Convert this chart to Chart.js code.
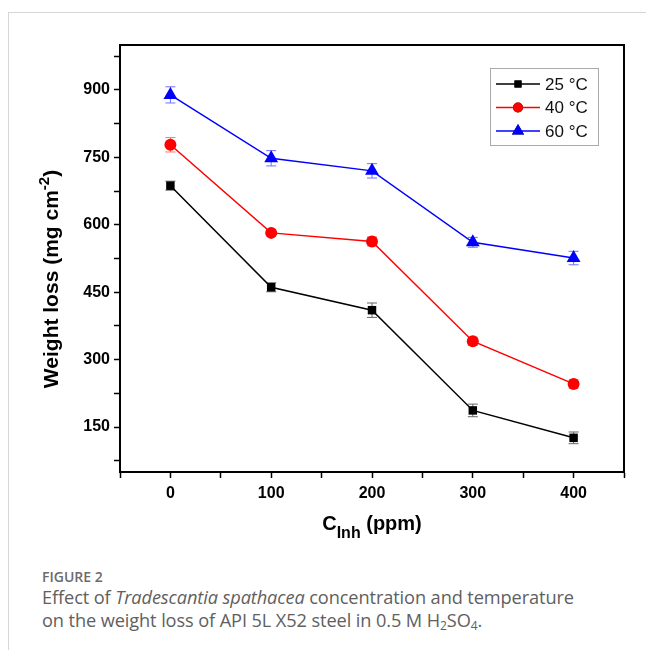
<!DOCTYPE html>
<html>
<head>
<meta charset="utf-8">
<script src="https://cdn.jsdelivr.net/npm/chart.js@4"></script>
<style>
  html, body { margin: 0; padding: 0; background: #fff; }
  body { width: 646px; height: 650px; position: relative; overflow: hidden; }
  .frame { position: absolute; left: 8px; top: 12px; right: 0; bottom: 0;
           border-left: 1px solid #d6d6d6; border-top: 1px solid #d6d6d6; }
  #chart { position: absolute; left: 0; top: 0; }
  .cap { position: absolute; left: 42px; top: 567px; font-family: "Open Sans", sans-serif; color: #666; }
  .cap .fig { font-size: 14px; font-weight: 600; line-height: 19px; color: #6b6b6b; }
  .cap .txt { font-size: 18.2px; line-height: 23px; color: #606060; letter-spacing: -0.1px; }
  .cap sub { font-size: 12px; vertical-align: -3px; line-height: 0; }
</style>
</head>
<body>
<div class="frame"></div>
<canvas id="chart" width="646" height="550"></canvas>
<div class="cap">
  <div class="fig">FIGURE 2</div>
  <div class="txt">Effect of <i>Tradescantia spathacea</i> concentration and temperature<br>on the weight loss of API 5L X52 steel in 0.5 M H<sub>2</sub>SO<sub>4</sub>.</div>
</div>
<script>
// concentration of inhibitor (ppm)
const concentrations = [0, 100, 200, 300, 400];
const seriesNames = ["25 °C", "40 °C", "60 °C"];
// weight loss (mg cm-2)
const loss25 = [687, 461, 410, 187, 126];
const loss40 = [778, 582, 563, 341, 246];
const loss60 = [889, 748, 720, 561, 526];
// error bars (±)
const err25 = [10, 10, 16, 14, 13];
const err40 = [16, 7, 10, 9, 9];
const err60 = [18, 17, 16, 11, 15];
const xTicks = [-50, 0, 50, 100, 150, 200, 250, 300, 350, 400, 450];
const yTicks = [75, 150, 225, 300, 375, 450, 525, 600, 675, 750, 825, 900, 975];

const tickFont = { family: "Liberation Sans, Arial, sans-serif", size: 16, weight: "bold" };

function pts(vals) {
  return concentrations.map((c, i) => ({ x: c, y: vals[i] }));
}

const errorBars = {
  id: "errorBars",
  beforeDatasetsDraw(chart) {
    const ctx = chart.ctx;
    const xs = chart.scales.x, ys = chart.scales.y;
    chart.data.datasets.forEach((ds) => {
      ctx.save();
      ctx.strokeStyle = ds.errColor;
      ctx.lineWidth = 1;
      ds.data.forEach((p, i) => {
        const e = ds.errors[i];
        const px = xs.getPixelForValue(p.x);
        const top = ys.getPixelForValue(p.y + e);
        const bot = ys.getPixelForValue(p.y - e);
        ctx.beginPath();
        ctx.moveTo(px, top); ctx.lineTo(px, bot);
        ctx.moveTo(px - 5, top); ctx.lineTo(px + 5, top);
        ctx.moveTo(px - 5, bot); ctx.lineTo(px + 5, bot);
        ctx.stroke();
      });
      ctx.restore();
    });
  }
};

const decorations = {
  id: "decorations",
  afterDraw(chart) {
    const ctx = chart.ctx;
    const a = chart.chartArea;
    ctx.save();
    // frame
    ctx.strokeStyle = "#000";
    ctx.lineWidth = 2;
    ctx.strokeRect(a.left, a.top, a.right - a.left, a.bottom - a.top);

    // x title with subscript
    ctx.fillStyle = "#000";
    ctx.textBaseline = "alphabetic";
    const big = "bold 20px Liberation Sans, Arial, sans-serif";
    const small = "bold 16px Liberation Sans, Arial, sans-serif";
    ctx.font = big; const wC = ctx.measureText("C").width;
    ctx.font = small; const wI = ctx.measureText("Inh").width;
    ctx.font = big; const wP = ctx.measureText(" (ppm)").width;
    let x0 = (a.left + a.right) / 2 - (wC + wI + wP) / 2;
    ctx.font = big; ctx.fillText("C", x0, 530);
    ctx.font = small; ctx.fillText("Inh", x0 + wC, 538);
    ctx.font = big; ctx.fillText(" (ppm)", x0 + wC + wI, 530);

    // y title with superscript
    const bigY = "bold 21px Liberation Sans, Arial, sans-serif";
    const smallY = "bold 15px Liberation Sans, Arial, sans-serif";
    ctx.translate(58, 279);
    ctx.rotate(-Math.PI / 2);
    ctx.font = bigY; const w1 = ctx.measureText("Weight loss (mg cm").width;
    ctx.font = smallY; const w2 = ctx.measureText("-2").width;
    ctx.font = bigY; const w3 = ctx.measureText(")").width;
    let s = -(w1 + w2 + w3) / 2;
    ctx.font = bigY; ctx.fillText("Weight loss (mg cm", s, 0);
    ctx.font = smallY; ctx.fillText("-2", s + w1, -9);
    ctx.font = bigY; ctx.fillText(")", s + w1 + w2, 0);
    ctx.restore();

    // legend
    ctx.save();
    const lx = 490, ly = 68, lw = 108, lh = 77;
    ctx.strokeStyle = "#aaa";
    ctx.lineWidth = 1;
    ctx.strokeRect(lx + 0.5, ly + 0.5, lw, lh);
    chart.data.datasets.forEach((ds, i) => {
      const cy = ly + 16 + i * 23.5;
      ctx.strokeStyle = ds.borderColor;
      ctx.lineWidth = 1.5;
      ctx.beginPath(); ctx.moveTo(lx + 6, cy); ctx.lineTo(lx + 50, cy); ctx.stroke();
      Chart.helpers.drawPoint(ctx, {
        pointStyle: ds.pointStyle, radius: ds.pointRadius - 1, borderWidth: 0, rotation: 0
      }, lx + 28, cy);
      ctx.fillStyle = ds.backgroundColor;
      ctx.fill();
      ctx.fillStyle = "#111";
      ctx.font = "17px Liberation Sans, Arial, sans-serif";
      ctx.textBaseline = "middle";
      ctx.fillText(ds.label, lx + 55, cy + 1);
    });
    ctx.restore();
  }
};

function makeDataset(label, vals, errs, color, errColor, style, r) {
  return {
    label: label,
    data: pts(vals),
    errors: errs,
    errColor: errColor,
    borderColor: color,
    backgroundColor: color,
    borderWidth: 1.5,
    pointStyle: style,
    pointRadius: r,
    pointBorderWidth: 0,
    tension: 0
  };
}

new Chart(document.getElementById("chart"), {
  type: "line",
  data: {
    datasets: [
      makeDataset(seriesNames[0], loss25, err25, "#000000", "#666666", "rect", 6),
      makeDataset(seriesNames[1], loss40, err40, "#ff0000", "#ff7070", "circle", 6),
      makeDataset(seriesNames[2], loss60, err60, "#0000ff", "#7070ff", "triangle", 8)
    ]
  },
  options: {
    responsive: false,
    animation: false,
    layout: { padding: { left: 0, top: 45, right: 22, bottom: 0 } },
    plugins: { legend: { display: false }, tooltip: { enabled: false } },
    scales: {
      x: {
        type: "linear",
        min: -50,
        max: 450,
        afterBuildTicks: (scale) => { scale.ticks = xTicks.map((v) => ({ value: v })); },
        afterFit: (scale) => { scale.height = 78; },
        border: { color: "#000", width: 2 },
        grid: { drawOnChartArea: false, drawTicks: true, tickLength: 6, color: "#000", tickWidth: 1.5 },
        ticks: {
          color: "#000",
          font: tickFont,
          padding: 6,
          maxRotation: 0,
          autoSkip: false,
          callback: (v) => (v % 100 === 0 && v >= 0 && v <= 400 ? String(v) : "")
        }
      },
      y: {
        type: "linear",
        min: 50,
        max: 1000,
        afterBuildTicks: (scale) => { scale.ticks = yTicks.map((v) => ({ value: v })); },
        afterFit: (scale) => { scale.width = 120; },
        border: { color: "#000", width: 2 },
        grid: { drawOnChartArea: false, drawTicks: true, tickLength: 6, color: "#000", tickWidth: 1.5 },
        ticks: {
          color: "#000",
          font: tickFont,
          padding: 4,
          autoSkip: false,
          callback: (v) => (v % 150 === 0 ? String(v) : "")
        }
      }
    }
  },
  plugins: [errorBars, decorations]
});
</script>
</body>
</html>
